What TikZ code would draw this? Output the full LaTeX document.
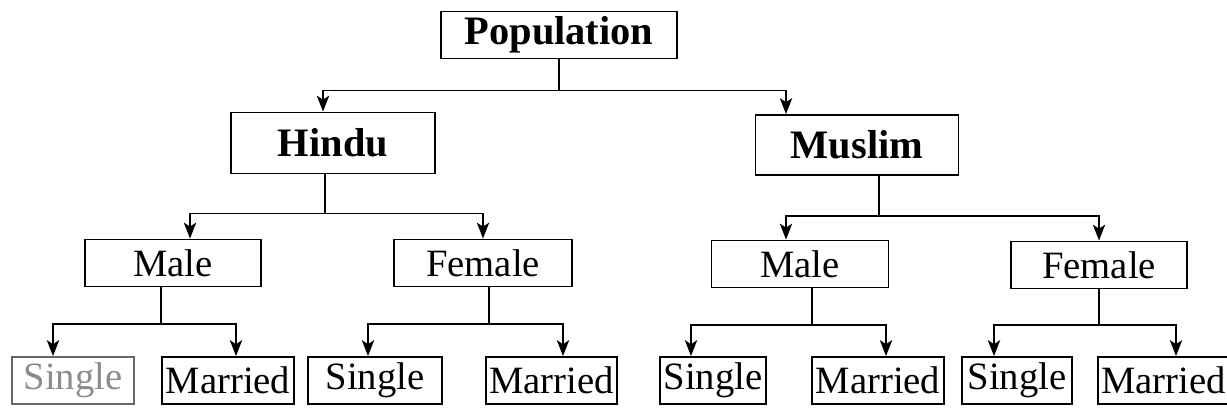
\documentclass[tikz,border=0pt]{standalone}
\usepackage{fontspec}
\setmainfont{Liberation Serif}
\usetikzlibrary{arrows.meta}
\begin{document}
\begin{tikzpicture}[
  box/.style={draw,line width=1.1pt,inner sep=0pt,minimum height=0.94cm},
  headbox/.style={box,font=\fontsize{23}{27}\selectfont\bfseries},
  leafbox/.style={box,font=\fontsize{22}{26}\selectfont},
  arr/.style={line width=1pt,-{Stealth[length=9pt,width=7pt,inset=2.2pt]}},
  link/.style={line width=1pt}]
\useasboundingbox (0,0) rectangle (24.54,-8.2);
% top
\node[headbox,minimum width=4.72cm] (pop) at (11.18,-0.70) {Population};
\node[headbox,minimum width=4.08cm,minimum height=1.22cm] (hindu) at (6.66,-2.86) {Hindu};
\node[headbox,minimum width=4.06cm,minimum height=1.20cm] (muslim) at (17.14,-2.90) {Muslim};
% sex
\node[leafbox,minimum width=3.52cm] (hmale) at (3.46,-5.26) {Male};
\node[leafbox,minimum width=3.56cm] (hfemale) at (9.66,-5.26) {Female};
\node[leafbox,minimum width=3.54cm] (mmale) at (16.00,-5.28) {Male};
\node[leafbox,minimum width=3.52cm] (mfemale) at (21.98,-5.30) {Female};
% marital status
\node[leafbox,minimum width=2.44cm,draw=black!60,text=black!45] (hmsingle) at (1.46,-7.61) {Single};
\node[leafbox,minimum width=2.64cm] (hmmarried) at (4.56,-7.61) {Married};
\node[leafbox,minimum width=2.68cm] (hfsingle) at (7.50,-7.61) {Single};
\node[leafbox,minimum width=2.62cm] (hfmarried) at (11.03,-7.61) {Married};
\node[leafbox,minimum width=2.12cm] (mmsingle) at (14.26,-7.61) {Single};
\node[leafbox,minimum width=2.64cm] (mmmarried) at (17.56,-7.61) {Married};
\node[leafbox,minimum width=2.20cm] (mfsingle) at (20.34,-7.61) {Single};
\node[leafbox,minimum width=2.62cm] (mfmarried) at (23.27,-7.61) {Married};

\draw[link] (pop.south) -- ++(0,-0.62) coordinate (popj);
\draw[arr] (popj) -| ([xshift=-0.2cm]hindu.north);
\draw[arr] (popj) -| ([xshift=-1.42cm]muslim.north);

\draw[link] ([xshift=-0.16cm]hindu.south) -- ++(0,-0.78) coordinate (hinduj);
\draw[arr] (hinduj) -| ([xshift=0.34cm]hmale.north);
\draw[arr] (hinduj) -| (hfemale.north);

\draw[link] ([xshift=0.44cm]muslim.south) -- ++(0,-0.80) coordinate (muslimj);
\draw[arr] (muslimj) -| ([xshift=-0.28cm]mmale.north);
\draw[arr] (muslimj) -| (mfemale.north);

\draw[link] ([xshift=-0.24cm]hmale.south) -- ++(0,-0.73) coordinate (hmalej);
\draw[arr] (hmalej) -| ([xshift=-0.4cm]hmsingle.north);
\draw[arr] (hmalej) -| ([xshift=0.16cm]hmmarried.north);

\draw[link] ([xshift=0.12cm]hfemale.south) -- ++(0,-0.73) coordinate (hfemalej);
\draw[arr] (hfemalej) -| ([xshift=-0.14cm]hfsingle.north);
\draw[arr] (hfemalej) -| ([xshift=0.23cm]hfmarried.north);

\draw[link] ([xshift=0.24cm]mmale.south) -- ++(0,-0.73) coordinate (mmalej);
\draw[arr] (mmalej) -| ([xshift=-0.44cm]mmsingle.north);
\draw[arr] (mmalej) -| ([xshift=0.16cm]mmmarried.north);

\draw[link] (mfemale.south) -- ++(0,-0.71) coordinate (mfemalej);
\draw[arr] (mfemalej) -| ([xshift=-0.46cm]mfsingle.north);
\draw[arr] (mfemalej) -| ([xshift=0.25cm]mfmarried.north);
\end{tikzpicture}
\end{document}
